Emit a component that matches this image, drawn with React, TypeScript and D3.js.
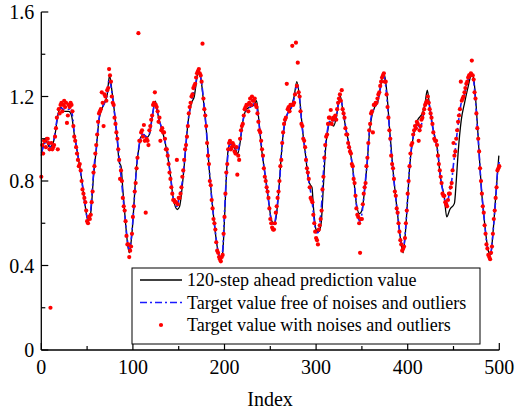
import React from "react";
import * as d3 from "d3";

// Target value free of noises and outliers (every 2nd index, 0..500)
const cleanStep = 2;
const cleanValues = [
  0.93, 0.96, 0.98, 0.99, 0.98, 0.96, 0.965, 1.0, 1.06, 1.11,
  1.14, 1.145, 1.14, 1.14, 1.14, 1.14, 1.145, 1.11, 1.03, 0.975,
  0.92, 0.865, 0.81, 0.745, 0.68, 0.63, 0.62, 0.665, 0.78, 0.885,
  0.95, 1.06, 1.12, 1.145, 1.16, 1.18, 1.21, 1.28, 1.25, 1.19,
  1.12, 1.04, 0.955, 0.865, 0.78, 0.69, 0.6, 0.52, 0.475, 0.52,
  0.615, 0.742, 0.865, 0.945, 1.0, 1.02, 1.02, 1.01, 1.015, 1.025,
  1.07, 1.13, 1.165, 1.14, 1.1, 1.07, 1.04, 1.005, 0.97, 0.935,
  0.86, 0.79, 0.72, 0.69, 0.68, 0.71, 0.75, 0.8, 0.88, 0.98,
  1.075, 1.136, 1.18, 1.22, 1.245, 1.3, 1.317, 1.29, 1.23, 1.15,
  1.05, 0.93, 0.82, 0.72, 0.635, 0.56, 0.49, 0.45, 0.43, 0.47,
  0.65, 0.82, 0.935, 0.975, 0.97, 0.96, 0.95, 0.94, 0.965, 1.02,
  1.08, 1.12, 1.135, 1.145, 1.15, 1.155, 1.165, 1.17, 1.13, 1.06,
  0.98, 0.9, 0.84, 0.775, 0.71, 0.64, 0.6, 0.595, 0.63, 0.7,
  0.79, 0.92, 1.02, 1.08, 1.11, 1.13, 1.14, 1.155, 1.19, 1.24,
  1.25, 1.19, 1.09, 1.01, 0.945, 0.88, 0.8, 0.75, 0.69, 0.61,
  0.555, 0.555, 0.6, 0.69, 0.84, 0.96, 1.03, 1.075, 1.088, 1.085,
  1.085, 1.1, 1.16, 1.2, 1.17, 1.12, 1.065, 1.01, 0.97, 0.92,
  0.86, 0.775, 0.69, 0.625, 0.61, 0.645, 0.72, 0.81, 0.9, 1.03,
  1.1, 1.13, 1.15, 1.165, 1.19, 1.235, 1.278, 1.294, 1.25, 1.16,
  1.05, 0.935, 0.845, 0.76, 0.68, 0.605, 0.535, 0.48, 0.5, 0.59,
  0.72, 0.865, 0.955, 1.01, 1.045, 1.07, 1.06, 1.05, 1.09, 1.13,
  1.165, 1.18, 1.152, 1.085, 1.04, 1.0, 0.96, 0.895, 0.81, 0.76,
  0.72, 0.68, 0.71, 0.755, 0.8, 0.88, 0.95, 1.03, 1.1, 1.16,
  1.185, 1.21, 1.255, 1.28, 1.297, 1.31, 1.275, 1.18, 1.06, 0.93,
  0.79, 0.69, 0.6, 0.515, 0.465, 0.445, 0.5, 0.6, 0.71, 0.84,
  0.89,
];

// Target value with noises and outliers, even indices 0,2,...,500
const noisyEven = [
  0.82, 0.93, 0.99, 1.0, 0.98, 0.2, 0.95, 0.97, 1.05, 0.95,
  1.12, 1.17, 1.16, 1.15, 1.075, 1.16, 1.17, 1.13, 1.01, 0.96,
  0.9, 0.88, 0.8, 0.74, 0.7, 0.61, 0.63, 0.64, 0.75, 0.87,
  0.97, 1.08, 1.13, 1.22, 1.06, 1.2, 1.23, 1.33, 1.27, 1.17,
  1.1, 1.03, 0.95, 0.81, 0.8, 0.68, 0.61, 0.5, 0.44, 0.49,
  0.63, 0.75, 0.86, 1.5, 0.99, 1.04, 1.065, 0.65, 0.99, 1.04,
  1.09, 1.16, 1.22, 1.15, 1.08, 0.99, 1.05, 1.03, 0.95, 0.92,
  0.84, 0.77, 0.71, 0.7, 0.9, 0.72, 0.74, 0.82, 0.9, 0.97,
  1.06, 1.15, 1.2, 1.24, 1.26, 1.31, 1.33, 1.3, 1.45, 1.14,
  1.06, 0.92, 0.8, 0.71, 0.62, 0.57, 0.47, 0.44, 0.42, 0.45,
  0.63, 0.84, 0.95, 0.99, 0.96, 0.97, 0.93, 0.83, 0.9, 1.04,
  1.07, 1.14, 1.16, 1.13, 1.19, 1.2, 1.18, 1.16, 1.12, 1.04,
  0.99, 0.92, 0.82, 0.77, 0.72, 0.62, 0.58, 0.57, 0.65, 0.72,
  0.8, 0.9, 1.03, 1.09, 1.26, 1.15, 1.16, 1.44, 1.17, 1.455,
  1.36, 1.2, 1.07, 1.0, 0.96, 0.86, 0.81, 0.72, 0.7, 0.6,
  0.53, 0.5, 0.59, 0.66, 0.82, 0.97, 1.02, 1.1, 1.136, 1.09,
  1.1, 1.09, 1.17, 1.21, 1.23, 1.12, 1.05, 1.02, 0.96, 0.93,
  0.87, 0.79, 0.67, 0.63, 0.46, 0.62, 0.74, 0.79, 0.91, 1.04,
  1.12, 1.03, 1.16, 1.17, 1.21, 1.25, 1.29, 1.31, 1.27, 1.15,
  1.04, 0.92, 0.86, 0.75, 0.67, 0.6, 0.52, 0.47, 0.49, 0.6,
  0.74, 0.87, 0.97, 1.02, 1.06, 1.08, 0.99, 1.06, 1.1, 1.14,
  1.17, 1.2, 1.14, 1.1, 1.03, 0.99, 0.97, 0.88, 0.82, 0.74,
  0.73, 0.69, 0.71, 0.74, 0.79, 0.98, 0.94, 1.04, 1.11, 1.27,
  1.19, 1.22, 1.26, 1.29, 1.3, 1.37, 1.28, 1.19, 1.05, 0.94,
  0.8, 0.68, 0.59, 0.5, 0.45, 0.43, 0.49, 0.62, 0.72, 0.85,
  0.87,
];

// Target value with noises and outliers, odd indices 1,3,...,499
const noisyOdd = [
  0.97, 0.99, 0.96, 1.0, 0.95, 0.98, 0.96, 1.01, 1.1, 1.14,
  1.16, 1.13, 1.18, 1.17, 1.11, 1.15, 1.16, 1.06, 0.99, 0.93,
  0.87, 0.85, 0.76, 0.72, 0.66, 0.6, 0.62, 0.7, 0.84, 0.93,
  1.02, 1.12, 1.14, 1.17, 1.21, 1.18, 1.24, 1.3, 1.2, 1.16,
  1.07, 1.0, 0.9, 0.85, 0.72, 0.66, 0.54, 0.5, 0.47, 0.55,
  0.68, 0.79, 0.91, 0.99, 1.03, 1.01, 0.99, 1.0, 0.97, 1.06,
  1.11, 1.17, 1.16, 1.13, 1.1, 1.04, 1.03, 1.0, 0.95, 0.88,
  0.81, 0.74, 0.71, 0.7, 0.69, 0.72, 0.77, 0.85, 0.95, 1.01,
  1.12, 1.17, 1.21, 1.25, 1.29, 1.32, 1.31, 1.27, 1.19, 1.11,
  0.98, 0.88, 0.78, 0.67, 0.6, 0.51, 0.46, 0.43, 0.44, 0.55,
  0.74, 0.88, 0.98, 0.95, 0.98, 0.94, 0.96, 0.92, 1.0, 1.06,
  1.11, 1.15, 1.16, 1.17, 1.16, 1.18, 1.19, 1.15, 1.08, 1.03,
  0.95, 0.86, 0.8, 0.75, 0.67, 0.6, 0.57, 0.6, 0.68, 0.75,
  0.87, 0.98, 1.07, 1.1, 1.14, 1.13, 1.16, 1.16, 1.21, 1.25,
  1.22, 1.13, 1.06, 0.99, 0.9, 0.84, 0.77, 0.71, 0.64, 0.56,
  0.52, 0.57, 0.62, 0.76, 0.91, 1.01, 1.07, 1.1, 1.07, 1.1,
  1.11, 1.14, 1.19, 1.18, 1.14, 1.1, 1.02, 0.98, 0.94, 0.88,
  0.81, 0.73, 0.64, 0.6, 0.62, 0.69, 0.77, 0.87, 0.98, 1.07,
  1.13, 1.16, 1.17, 1.19, 1.22, 1.27, 1.3, 1.27, 1.21, 1.1,
  1.0, 0.88, 0.81, 0.73, 0.65, 0.56, 0.5, 0.48, 0.53, 0.66,
  0.8, 0.93, 0.98, 1.04, 1.05, 1.07, 1.04, 1.09, 1.12, 1.16,
  1.18, 1.17, 1.12, 1.07, 1.0, 0.99, 0.92, 0.85, 0.79, 0.73,
  0.7, 0.68, 0.74, 0.77, 0.85, 0.92, 1.0, 1.08, 1.14, 1.18,
  1.2, 1.24, 1.27, 1.3, 1.31, 1.3, 1.22, 1.12, 1.0, 0.86,
  0.74, 0.65, 0.55, 0.48, 0.44, 0.46, 0.55, 0.66, 0.77, 0.86,
];

// 120-step ahead prediction value (index, value)
const predIndex = [
  0, 3, 5, 9, 12, 15, 18, 21, 25, 30, 33, 36, 40, 44, 48, 51, 54, 57, 60, 63,
  66, 70, 72, 74.5, 77, 80, 83, 85, 87, 89, 92, 94, 96, 98, 100, 102, 104, 106, 109, 112,
  115, 118, 121, 124.5, 128, 132, 136, 140, 144, 148.5, 151, 154, 157, 160, 164, 167, 169, 171, 174, 177,
  180, 184, 188, 192, 196, 198, 200, 202, 204, 206, 209, 212, 214.5, 217, 220, 224, 228, 232, 235, 237,
  240, 244, 248, 251, 254, 256, 259, 262, 264, 268, 272, 276, 279, 282, 285, 288, 292, 294, 295.5, 297,
  300, 303, 305.5, 308, 310, 312, 316, 319, 322, 324.5, 326.5, 329, 332, 336, 340, 344, 347.5, 350, 353, 356,
  358.5, 361, 364, 367, 370, 374, 377, 380, 384, 388, 392, 395, 397, 400, 402, 405, 408, 411, 413.5, 416,
  419, 421.4, 424, 428, 432, 436, 440, 442.6, 446, 451, 453, 455, 458.5, 462, 466, 470.2, 472.5, 475, 478, 480,
  484, 488, 490.6, 493, 496, 499.5,
];
const predValues = [
  0.92, 0.98, 0.99, 0.96, 0.97, 1.02, 1.11, 1.15, 1.13, 1.13, 1.11, 1.02, 0.92, 0.81, 0.68, 0.61, 0.65, 0.82, 0.95, 1.09,
  1.14, 1.18, 1.21, 1.3, 1.23, 1.12, 0.99, 0.89, 0.87, 0.76, 0.6, 0.51, 0.46, 0.51, 0.61, 0.75, 0.87, 0.94, 1.01, 1.02,
  1.005, 1.02, 1.1, 1.178, 1.1, 1.04, 0.965, 0.86, 0.72, 0.665, 0.68, 0.78, 0.92, 1.07, 1.17, 1.2, 1.26, 1.317, 1.29, 1.18,
  1.05, 0.82, 0.635, 0.49, 0.43, 0.46, 0.62, 0.82, 0.95, 0.975, 0.965, 0.95, 0.93, 0.98, 1.08, 1.14, 1.15, 1.16, 1.18, 1.11,
  0.97, 0.84, 0.71, 0.62, 0.597, 0.62, 0.74, 0.92, 1.02, 1.11, 1.14, 1.2, 1.27, 1.19, 1.05, 0.94, 0.8, 0.78, 0.77, 0.68,
  0.57, 0.56, 0.6, 0.78, 0.93, 1.02, 1.08, 1.06, 1.1, 1.17, 1.2, 1.14, 1.06, 0.97, 0.86, 0.69, 0.645, 0.66, 0.76, 0.9,
  1.04, 1.11, 1.15, 1.17, 1.24, 1.31, 1.23, 1.06, 0.85, 0.68, 0.53, 0.46, 0.53, 0.72, 0.86, 0.98, 1.05, 1.09, 1.105, 1.12,
  1.17, 1.23, 1.15, 1.04, 0.96, 0.81, 0.72, 0.63, 0.665, 0.694, 0.8, 0.93, 1.089, 1.168, 1.247, 1.31, 1.27, 1.14, 0.93, 0.79,
  0.6, 0.47, 0.45, 0.55, 0.72, 0.92,
];

const xTicksMajor = [0, 100, 200, 300, 400, 500];
const xTicksMinor = [50, 150, 250, 350, 450];
const yTicksMajor = [0, 0.4, 0.8, 1.2, 1.6];
const yTicksMinor = [0.2, 0.6, 1.0, 1.4];

const legendLabels = [
  "120-step ahead prediction value",
  "Target value free of noises and outliers",
  "Target value with noises and outliers",
];

const FONT = '"Liberation Serif", "Times New Roman", serif';

export default function App() {
  const W = 515;
  const H = 416;
  const x = d3.scaleLinear().domain([0, 500]).range([41.3, 499.3]);
  const y = d3.scaleLinear().domain([0, 1.6]).range([350, 12]);

  const clean = cleanValues.map((v, i) => [i * cleanStep, v] as [number, number]);
  const noisy = [
    ...noisyEven.map((v, i) => [i * 2, v] as [number, number]),
    ...noisyOdd.map((v, i) => [i * 2 + 1, v] as [number, number]),
  ];
  const pred = predValues.map((v, i) => [predIndex[i], v] as [number, number]);

  const line = d3
    .line<[number, number]>()
    .x((d) => x(d[0]))
    .y((d) => y(d[1]))
    .curve(d3.curveMonotoneX);

  const x0 = x(0);
  const yb = y(0);
  const majorLen = 7;
  const minorLen = 4;

  const legX = 132;
  const legY = 268;
  const legW = 348;
  const legH = 76;
  const rows = [280, 302.5, 325];

  return (
    <svg
      width={W}
      height={H}
      style={{ position: "absolute", left: 0, top: 0, display: "block", background: "#fff" }}
    >
      <rect x={0} y={0} width={W} height={H} fill="#fff" />
      {/* series */}
      <path d={line(pred) || ""} fill="none" stroke="#000" strokeWidth={1.3} />
      <path
        d={line(clean) || ""}
        fill="none"
        stroke="#1a1aff"
        strokeWidth={1.6}
        strokeDasharray="7,3,2,3"
      />
      {noisy.map((d, i) => (
        <circle key={i} cx={x(d[0])} cy={y(d[1])} r={2.1} fill="#ff0000" />
      ))}

      {/* axes */}
      <line x1={x0} y1={y(1.6)} x2={x0} y2={yb} stroke="#000" strokeWidth={1.3} />
      <line x1={x0} y1={yb} x2={x(500)} y2={yb} stroke="#000" strokeWidth={1.3} />
      {yTicksMajor.map((t) => (
        <g key={"ym" + t}>
          <line x1={x0} x2={x0 + majorLen} y1={y(t)} y2={y(t)} stroke="#000" strokeWidth={1.2} />
          <text
            x={x0 - 7}
            y={y(t) + 7}
            textAnchor="end"
            fontFamily={FONT}
            fontSize={20}
            fill="#000"
          >
            {t === 0 ? "0" : t.toFixed(1)}
          </text>
        </g>
      ))}
      {yTicksMinor.map((t) => (
        <line key={"yn" + t} x1={x0} x2={x0 + minorLen} y1={y(t)} y2={y(t)} stroke="#000" strokeWidth={1.2} />
      ))}
      {xTicksMajor.map((t) => (
        <g key={"xm" + t}>
          <line x1={x(t)} x2={x(t)} y1={yb} y2={yb - majorLen} stroke="#000" strokeWidth={1.2} />
          <text x={x(t)} y={374} textAnchor="middle" fontFamily={FONT} fontSize={20} fill="#000">
            {String(t)}
          </text>
        </g>
      ))}
      {xTicksMinor.map((t) => (
        <line key={"xn" + t} x1={x(t)} x2={x(t)} y1={yb} y2={yb - minorLen} stroke="#000" strokeWidth={1.2} />
      ))}
      <text x={270} y={406} textAnchor="middle" fontFamily={FONT} fontSize={20} fill="#000">
        Index
      </text>

      {/* legend */}
      <rect x={legX} y={legY} width={legW} height={legH} fill="#fff" stroke="#000" strokeWidth={1} />
      <line x1={140} x2={182} y1={rows[0]} y2={rows[0]} stroke="#000" strokeWidth={1.3} />
      <line
        x1={140}
        x2={182}
        y1={rows[1]}
        y2={rows[1]}
        stroke="#1a1aff"
        strokeWidth={1.6}
        strokeDasharray="7,3,2,3"
      />
      <circle cx={161} cy={rows[2]} r={2.1} fill="#ff0000" />
      {legendLabels.map((l, i) => (
        <text key={l} x={187} y={rows[i] + 6} fontFamily={FONT} fontSize={18} fill="#000">
          {l}
        </text>
      ))}
    </svg>
  );
}
